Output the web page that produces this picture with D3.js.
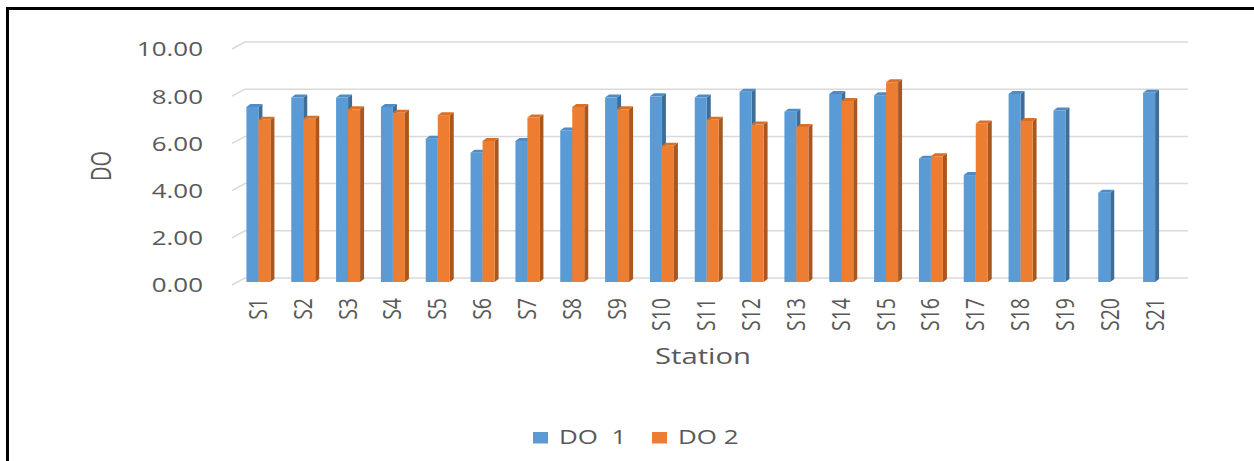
<!DOCTYPE html>
<html lang="en">
<head>
  <meta charset="UTF-8">
  <title>DO by Station</title>
  <style>
    body {
      margin: 0;
      background-color: #fff;
    }
    svg {
      display: block;
      font-family: "Open Sans", sans-serif;
    }
    .lbl {
      fill: #595959;
    }
  </style>
  <script src="https://d3js.org/d3.v7.min.js"></script>
</head>
<body>
  <div id="chart"></div>
  <script>
    const stations = ["S1", "S2", "S3", "S4", "S5", "S6", "S7", "S8", "S9", "S10", "S11",
                      "S12", "S13", "S14", "S15", "S16", "S17", "S18", "S19", "S20", "S21"];
    const do1 = [7.45, 7.85, 7.85, 7.45, 6.10, 5.50, 6.00, 6.45, 7.85, 7.90, 7.85,
                 8.10, 7.25, 8.00, 7.95, 5.25, 4.55, 8.00, 7.30, 3.80, 8.05];
    const do2 = [6.90, 6.95, 7.35, 7.20, 7.10, 6.00, 7.00, 7.45, 7.35, 5.80, 6.90,
                 6.70, 6.60, 7.70, 8.50, 5.35, 6.75, 6.85, null, null, null];
    const yTicks = [0, 2, 4, 6, 8, 10];
    const seriesNames = ["DO  1", "DO 2"];

    const W = 1254, H = 461;
    const SX = 1.33; // the original picture is stretched sideways, text too

    const colors = {
      front: ["#5b9bd5", "#ed7d31"],
      top:   ["#4f8bc4", "#d8702a"],
      side:  ["#3d6d99", "#a9561f"]
    };

    const svg = d3.select("#chart")
      .append("svg")
      .attr("width", W)
      .attr("height", H);

    // outer frame (only top and left show inside the window)
    svg.append("rect")
      .attr("x", 7.5).attr("y", 8.5)
      .attr("width", W + 20).attr("height", H + 20)
      .attr("fill", "none")
      .attr("stroke", "#000")
      .attr("stroke-width", 3);

    // scales: front plane (labels, wall edge), back wall, bars in the middle
    const yFront = d3.scaleLinear().domain([0, 10]).range([285, 49]);
    const yBack = d3.scaleLinear().domain([0, 10]).range([278, 42]);
    const yBar = d3.scaleLinear().domain([0, 10]).range([282, 47]);

    const x = d3.scaleBand()
      .domain(stations)
      .range([236.5, 1178])
      .padding(0);

    const wallFrontX = 232, wallBackX = 245, wallRight = 1188;

    // gridlines on side and back wall
    svg.append("g")
      .selectAll("path")
      .data(yTicks)
      .enter()
      .append("path")
      .attr("d", d => `M${wallFrontX},${yFront(d)}L${wallBackX},${yBack(d)}L${wallRight},${yBack(d)}`)
      .attr("fill", "none")
      .attr("stroke", "#d9d9d9")
      .attr("stroke-width", 1.5);

    // y axis labels
    const yAxis = svg.append("g")
      .attr("transform", "translate(203, 0)")
      .call(d3.axisLeft(yFront).tickValues(yTicks).tickFormat(d3.format(".2f")).tickSize(0));
    yAxis.select(".domain").remove();
    yAxis.selectAll("text")
      .attr("class", "lbl")
      .attr("x", 0)
      .attr("dy", "0.35em")
      .attr("transform", `scale(${SX},1)`)
      .style("font-size", "19.5px")
      .style("font-family", "'Open Sans', sans-serif")
      .attr("text-anchor", "end");

    // 3D bars: side face, top face, then front
    const barW = 12, dx = 4, dy = 3;
    const bars = [];
    stations.forEach((s, i) => {
      [do1[i], do2[i]].forEach((v, k) => {
        if (v == null) return;
        const x0 = x(s) + x.bandwidth() / 2 - barW - 0.5 + k * barW;
        bars.push({ x0: x0, x1: x0 + barW, yt: yBar(v), yb: yBar(0), k: k });
      });
    });

    const one = svg.append("g")
      .selectAll("g")
      .data(bars)
      .enter()
      .append("g");

    one.append("polygon")
      .attr("points", d => `${d.x1},${d.yt} ${d.x1 + dx},${d.yt - dy} ${d.x1 + dx},${d.yb - dy} ${d.x1},${d.yb}`)
      .attr("fill", d => colors.side[d.k]);
    one.append("polygon")
      .attr("points", d => `${d.x0},${d.yt} ${d.x0 + dx},${d.yt - dy} ${d.x1 + dx},${d.yt - dy} ${d.x1},${d.yt}`)
      .attr("fill", d => colors.top[d.k]);
    one.append("rect")
      .attr("x", d => d.x0)
      .attr("y", d => d.yt)
      .attr("width", barW)
      .attr("height", d => d.yb - d.yt)
      .attr("fill", d => colors.front[d.k]);

    // x axis labels (rotated)
    const xAxis = svg.append("g")
      .call(d3.axisBottom(x).tickSize(0));
    xAxis.select(".domain").remove();
    xAxis.selectAll("text")
      .attr("class", "lbl")
      .attr("x", 0)
      .attr("y", 0)
      .attr("dy", "0.35em")
      .attr("text-anchor", "end")
      .attr("transform", `translate(-1, 298) scale(${SX},1) rotate(-90)`)
      .style("font-size", "19.5px")
      .style("font-family", "'Open Sans', sans-serif");

    // axis titles
    svg.append("text")
      .attr("class", "lbl")
      .attr("transform", `translate(102, 166) scale(${SX},1) rotate(-90)`)
      .attr("text-anchor", "middle")
      .attr("dy", "0.35em")
      .style("font-size", "20px")
      .text("DO");

    svg.append("text")
      .attr("class", "lbl")
      .attr("transform", `translate(703, 364) scale(${SX},1)`)
      .attr("text-anchor", "middle")
      .style("font-size", "22px")
      .text("Station");

    // legend
    const legendX = [533, 652];
    const item = svg.append("g")
      .selectAll("g")
      .data(seriesNames)
      .enter()
      .append("g")
      .attr("transform", (d, i) => `translate(${legendX[i]}, 0)`);
    item.append("rect")
      .attr("x", 0)
      .attr("y", 432)
      .attr("width", 15)
      .attr("height", 11.5)
      .attr("fill", (d, i) => colors.front[i]);
    item.append("text")
      .attr("class", "lbl")
      .attr("transform", `translate(26, 444) scale(${SX},1)`)
      .style("font-size", "19.5px")
      .style("white-space", "pre")
      .text(d => d);
  </script>
</body>
</html>
